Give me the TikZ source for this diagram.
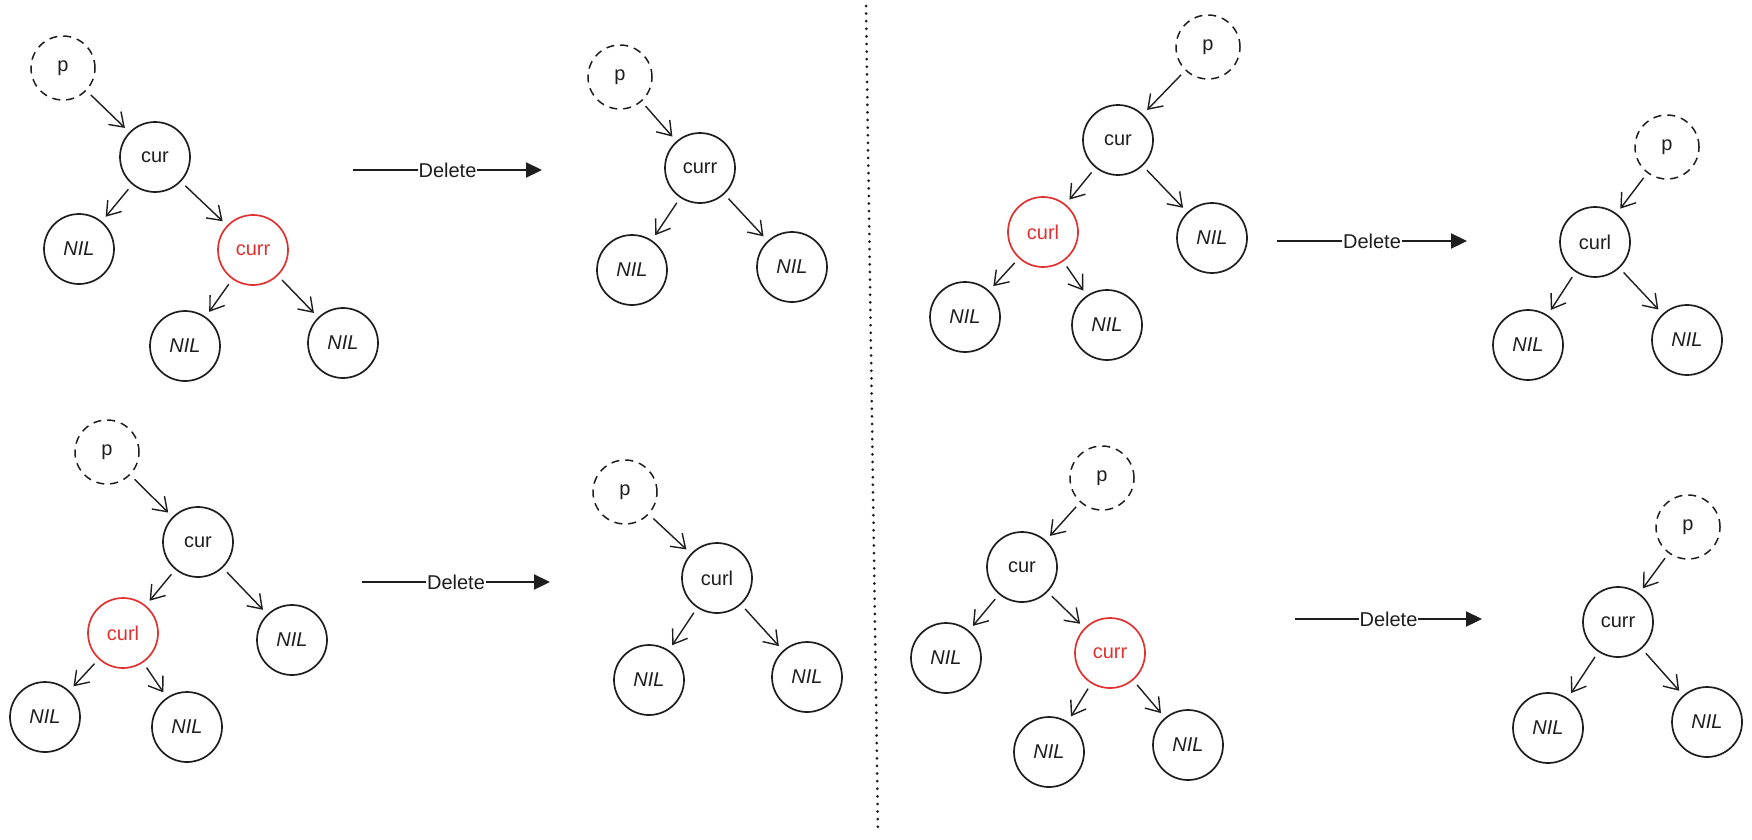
\documentclass[tikz,border=0pt]{standalone}
\usepackage{fontspec}
\setmainfont{Liberation Sans}
\usetikzlibrary{arrows.meta}
\definecolor{ink}{HTML}{1E1E1E}
\definecolor{exred}{HTML}{E03131}
\begin{document}
\begin{tikzpicture}[x=1pt,y=-1pt,
  every node/.style={font=\fontsize{20}{22}\selectfont},
  tn/.style={circle,draw=ink,line width=1.7pt,minimum size=70pt,inner sep=0pt,text=ink},
  hl/.style={tn,draw=exred,text=exred},
  pn/.style={circle,draw=ink,line width=1.5pt,dash pattern=on 8pt off 6pt,minimum size=64pt,inner sep=0pt,text=ink},
  lk/.style={draw=ink,line width=1.4pt,-{Straight Barb[length=13pt,width=18pt,line width=1.4pt]},shorten >=6pt,shorten <=6pt},
  del/.style={draw=ink,line width=2.2pt,-{Triangle[length=16pt,width=15pt]}},
  dl/.style={fill=white,inner sep=1pt,text=ink}]
\useasboundingbox (0,0) rectangle (1752,839);
\fill[white] (0,0) rectangle (1752,839);

% divider
\coordinate (dtop) at (866,6);
\coordinate (dbot) at (878,833);
\draw[ink,line width=3pt,line cap=round,dash pattern=on 0pt off 7.6pt] (dtop) -- (dbot);

% panel 1
\node[pn] (p1) at (63,68) {p};
\node[tn] (c1) at (155,157) {cur};
\node[tn] (n1a) at (79,249) {\textit{NIL}};
\node[hl] (r1) at (253,250) {curr};
\node[tn] (n1b) at (185,346) {\textit{NIL}};
\node[tn] (n1c) at (343,343) {\textit{NIL}};
\draw[lk] (p1) -- (c1);
\draw[lk] (c1) -- (n1a);
\draw[lk] (c1) -- (r1);
\draw[lk] (r1) -- (n1b);
\draw[lk] (r1) -- (n1c);

% delete 1
\coordinate (d1s) at (353,170);
\coordinate (d1e) at (542,170);
\draw[del] (d1s) -- node[dl] (d1l) {Delete} (d1e);

% panel 2
\node[pn] (p2) at (620,77) {p};
\node[tn] (r2) at (700,168) {curr};
\node[tn] (n2a) at (632,270) {\textit{NIL}};
\node[tn] (n2b) at (792,267) {\textit{NIL}};
\draw[lk] (p2) -- (r2);
\draw[lk] (r2) -- (n2a);
\draw[lk] (r2) -- (n2b);

% panel 3
\node[pn] (p3) at (1208,47) {p};
\node[tn] (c3) at (1118,140) {cur};
\node[hl] (l3) at (1043,232) {curl};
\node[tn] (n3a) at (1212,238) {\textit{NIL}};
\node[tn] (n3b) at (965,317) {\textit{NIL}};
\node[tn] (n3c) at (1107,325) {\textit{NIL}};
\draw[lk] (p3) -- (c3);
\draw[lk] (c3) -- (l3);
\draw[lk] (c3) -- (n3a);
\draw[lk] (l3) -- (n3b);
\draw[lk] (l3) -- (n3c);

% delete 2
\coordinate (d2s) at (1277,241);
\coordinate (d2e) at (1467,241);
\draw[del] (d2s) -- node[dl] (d2l) {Delete} (d2e);

% panel 4
\node[pn] (p4) at (1667,147) {p};
\node[tn] (l4) at (1595,242) {curl};
\node[tn] (n4a) at (1528,345) {\textit{NIL}};
\node[tn] (n4b) at (1687,340) {\textit{NIL}};
\draw[lk] (p4) -- (l4);
\draw[lk] (l4) -- (n4a);
\draw[lk] (l4) -- (n4b);

% panel 5
\node[pn] (p5) at (107,452) {p};
\node[tn] (c5) at (198,542) {cur};
\node[hl] (l5) at (123,633) {curl};
\node[tn] (n5a) at (292,640) {\textit{NIL}};
\node[tn] (n5b) at (45,717) {\textit{NIL}};
\node[tn] (n5c) at (187,727) {\textit{NIL}};
\draw[lk] (p5) -- (c5);
\draw[lk] (c5) -- (l5);
\draw[lk] (c5) -- (n5a);
\draw[lk] (l5) -- (n5b);
\draw[lk] (l5) -- (n5c);

% delete 3
\coordinate (d3s) at (362,582);
\coordinate (d3e) at (550,582);
\draw[del] (d3s) -- node[dl] (d3l) {Delete} (d3e);

% panel 6
\node[pn] (p6) at (625,492) {p};
\node[tn] (l6) at (717,578) {curl};
\node[tn] (n6a) at (649,680) {\textit{NIL}};
\node[tn] (n6b) at (807,677) {\textit{NIL}};
\draw[lk] (p6) -- (l6);
\draw[lk] (l6) -- (n6a);
\draw[lk] (l6) -- (n6b);

% panel 7
\node[pn] (p7) at (1102,478) {p};
\node[tn] (c7) at (1022,567) {cur};
\node[tn] (n7a) at (946,658) {\textit{NIL}};
\node[hl] (r7) at (1110,653) {curr};
\node[tn] (n7b) at (1049,752) {\textit{NIL}};
\node[tn] (n7c) at (1188,745) {\textit{NIL}};
\draw[lk] (p7) -- (c7);
\draw[lk] (c7) -- (n7a);
\draw[lk] (c7) -- (r7);
\draw[lk] (r7) -- (n7b);
\draw[lk] (r7) -- (n7c);

% delete 4
\coordinate (d4s) at (1295,619);
\coordinate (d4e) at (1482,619);
\draw[del] (d4s) -- node[dl] (d4l) {Delete} (d4e);

% panel 8
\node[pn] (p8) at (1688,527) {p};
\node[tn] (r8) at (1618,622) {curr};
\node[tn] (n8a) at (1548,728) {\textit{NIL}};
\node[tn] (n8b) at (1707,722) {\textit{NIL}};
\draw[lk] (p8) -- (r8);
\draw[lk] (r8) -- (n8a);
\draw[lk] (r8) -- (n8b);
\end{tikzpicture}
\end{document}
